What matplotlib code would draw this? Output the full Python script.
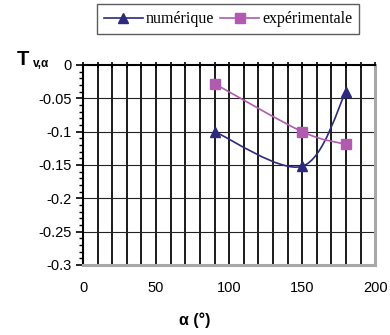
import numpy as np
import matplotlib
matplotlib.use("Agg")
import matplotlib.pyplot as plt
from matplotlib.path import Path
from matplotlib.patches import PathPatch
from matplotlib.lines import Line2D
from matplotlib.ticker import MultipleLocator

alpha = [90, 150, 180]
numerique = [-0.10, -0.152, -0.04]
experimentale = [-0.028, -0.10, -0.119]
x_ticks = [0, 50, 100, 150, 200]
y_ticks = [0, -0.05, -0.1, -0.15, -0.2, -0.25, -0.3]
y_labels = ["0", "-0.05", "-0.1", "-0.15", "-0.2", "-0.25", "-0.3"]

c_num = "#2B2A7E"
c_exp = "#B05BB0"

fig = plt.figure(figsize=(3.9, 3.35), dpi=100)
ax = fig.add_axes([0.213, 0.209, 0.749, 0.597])
ax.set_xlim(0, 200)
ax.set_ylim(-0.3, 0)


def smooth_path(xs, ys):
    P = np.column_stack([xs, ys]).astype(float)
    n = len(P)
    verts = [P[0]]
    codes = [Path.MOVETO]
    for i in range(n - 1):
        p0 = P[i - 1] if i > 0 else P[i]
        p1 = P[i]
        p2 = P[i + 1]
        p3 = P[i + 2] if i + 2 < n else P[i + 1]
        c1 = p1 + (p2 - p0) / 6.0
        c2 = p2 - (p3 - p1) / 6.0
        verts += [c1, c2, p2]
        codes += [Path.CURVE4] * 3
    return Path(verts, codes)


for xs, ys, col, mk, ms in [(alpha, numerique, c_num, "^", 7.5), (alpha, experimentale, c_exp, "s", 6.5)]:
    ax.add_patch(PathPatch(smooth_path(xs, ys), fill=False, edgecolor=col, lw=1.2, zorder=3))
    ax.plot(xs, ys, linestyle="none", marker=mk, ms=ms, color=col, zorder=4, clip_on=False)

# grid
ax.xaxis.set_minor_locator(MultipleLocator(10))
ax.yaxis.set_minor_locator(MultipleLocator(0.01))
ax.set_xticks(x_ticks)
ax.set_yticks(y_ticks)
ax.set_yticklabels(y_labels)
for xv in range(10, 200, 10):
    ax.axvline(xv, color="#1a1a1a", lw=1.4, zorder=1)
for yv in y_ticks[1:-1]:
    ax.axhline(yv, color="#222222", lw=0.8, zorder=1)

for s in ["top", "left"]:
    ax.spines[s].set_color("black")
    ax.spines[s].set_linewidth(1.5)
for s in ["bottom", "right"]:
    ax.spines[s].set_color("#A8A8A8")
    ax.spines[s].set_linewidth(2.2)

ax.tick_params(axis="x", which="both", bottom=False, top=True, direction="inout",
               length=5, width=1.2, labelsize=10.5, pad=9, labelfontfamily="Liberation Sans")
ax.tick_params(axis="y", which="major", left=True, direction="out", length=5, width=1.2,
               labelsize=10.5, pad=3, labelfontfamily="Liberation Sans")
ax.tick_params(axis="y", which="minor", left=True, direction="out", length=3, width=1.0)

fig.text(0.5, 0.045, "α (°)", ha="center", va="center", fontsize=11.5, fontweight="bold",
         family="Liberation Sans")
fig.text(0.042, 0.822, "T", ha="left", va="center", fontsize=14.5, fontweight="bold",
         family="Liberation Sans")
fig.text(0.085, 0.808, "v,α", ha="left", va="center", fontsize=8.5, fontweight="bold",
         family="Liberation Sans")

handles = [Line2D([], [], color=c_num, marker="^", ms=7, lw=1.2),
           Line2D([], [], color=c_exp, marker="s", ms=6.5, lw=1.2)]
leg = fig.legend(handles, ["numérique", "expérimentale"], loc="center",
                 bbox_to_anchor=(0.585, 0.943), ncol=2, frameon=True, fancybox=False,
                 prop={"family": "Liberation Serif", "size": 11.5}, handlelength=2.4,
                 handletextpad=0.2, columnspacing=0.4, borderpad=0.45, borderaxespad=0)
leg.get_frame().set_edgecolor("#333333")
leg.get_frame().set_linewidth(1.0)

fig.savefig("out.png", dpi=100)
